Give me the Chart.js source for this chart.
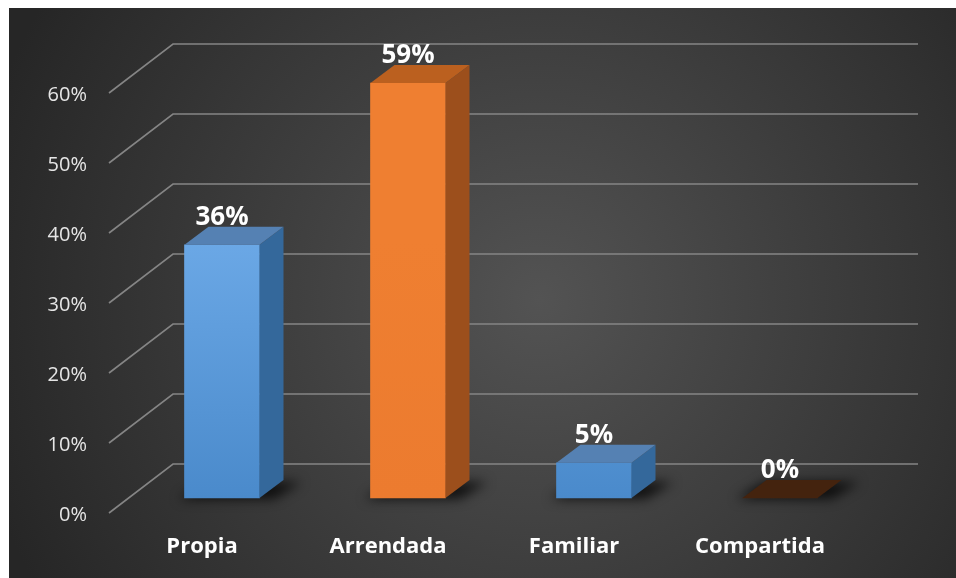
<!DOCTYPE html>
<html>
<head>
<meta charset="utf-8">
<script src="https://cdn.jsdelivr.net/npm/chart.js@4.4.1/dist/chart.umd.min.js"></script>
<style>
  html, body { margin: 0; padding: 0; background: #ffffff; }
  #wrap { position: relative; width: 956px; height: 578px; }
</style>
</head>
<body>
<div id="wrap"><canvas id="chart"></canvas></div>
<script>
// Tenencia de la vivienda (porcentajes)
const categories = ['Propia', 'Arrendada', 'Familiar', 'Compartida'];
const percentages = [36, 59, 5, 0];
const axisTicks = [0, 10, 20, 30, 40, 50, 60];

// Colours for each column: front (top/bottom of gradient), top face, side face
const frontTop = ['#6ba8e6', '#ef7f31', '#6ba8e6', '#4a2610'];
const frontBottom = ['#4a8acb', '#ec7b2f', '#4a8acb', '#4a2610'];
const topFace = ['#5581b3', '#bb601f', '#5581b3', '#44230e'];
const sideFace = ['#34689b', '#9c4f1c', '#34689b', '#3a1d0b'];

const DEPTH_X = 24, DEPTH_Y = -18;

const backdrop = {
  id: 'backdrop',
  beforeDraw(chart) {
    const { ctx, width, height } = chart;
    ctx.save();
    ctx.fillStyle = '#ffffff';
    ctx.fillRect(0, 0, width, height);
    const g = ctx.createRadialGradient(540, 300, 0, 540, 300, 580);
    g.addColorStop(0, '#535353');
    g.addColorStop(1, '#262626');
    ctx.fillStyle = g;
    ctx.fillRect(9, 8, width - 9, height - 8);
    ctx.restore();
  }
};

// Back wall and floor guide lines, drawn from the value axis ticks
const wallGrid = {
  id: 'wallGrid',
  beforeDatasetsDraw(chart) {
    const { ctx, chartArea } = chart;
    const y = chart.scales.y;
    const x0 = chartArea.left - 20, x1 = chartArea.left + 44, x2 = chartArea.right + 45;
    ctx.save();
    ctx.strokeStyle = '#858585';
    ctx.lineWidth = 1.6;
    axisTicks.forEach(v => {
      const p = y.getPixelForValue(v);
      ctx.beginPath();
      ctx.moveTo(x0, p - 2);
      ctx.lineTo(x1, p - 51);
      ctx.lineTo(x2, p - 51);
      ctx.stroke();
    });
    // soft floor shadows under each column
    const meta = chart.getDatasetMeta(0);
    ctx.filter = 'blur(6px)';
    ctx.fillStyle = 'rgba(0,0,0,0.75)';
    meta.data.forEach(bar => {
      const L = bar.x - bar.width / 2, R = bar.x + bar.width / 2, b = bar.base;
      ctx.beginPath();
      ctx.moveTo(L - 6, b + 1);
      ctx.lineTo(R + 14, b + 1);
      ctx.lineTo(R + 42, b - 16);
      ctx.lineTo(L + 22, b - 16);
      ctx.closePath();
      ctx.fill();
    });
    ctx.restore();
  }
};

// Top and side faces of each column plus value labels
const columns3d = {
  id: 'columns3d',
  afterDatasetsDraw(chart) {
    const { ctx } = chart;
    const meta = chart.getDatasetMeta(0);
    ctx.save();
    meta.data.forEach((bar, i) => {
      const L = bar.x - bar.width / 2, R = bar.x + bar.width / 2;
      const t = bar.y, b = bar.base;
      // side
      if (b - t > 0.5) {
        ctx.fillStyle = sideFace[i];
        ctx.beginPath();
        ctx.moveTo(R, t);
        ctx.lineTo(R + DEPTH_X, t + DEPTH_Y);
        ctx.lineTo(R + DEPTH_X, b + DEPTH_Y);
        ctx.lineTo(R, b);
        ctx.closePath();
        ctx.fill();
      }
      // top
      ctx.fillStyle = topFace[i];
      ctx.beginPath();
      ctx.moveTo(L, t);
      ctx.lineTo(R, t);
      ctx.lineTo(R + DEPTH_X, t + DEPTH_Y);
      ctx.lineTo(L + DEPTH_X, t + DEPTH_Y);
      ctx.closePath();
      ctx.fill();
      // value label
      ctx.fillStyle = '#ffffff';
      ctx.font = 'bold 26px "Open Sans"';
      ctx.textAlign = 'center';
      ctx.textBaseline = 'alphabetic';
      ctx.fillText(percentages[i] + '%', bar.x, t + DEPTH_Y - 2);
    });
    ctx.restore();
  }
};

const ctx = document.getElementById('chart');
new Chart(ctx, {
  type: 'bar',
  data: {
    labels: categories,
    datasets: [{
      data: percentages,
      yAxisID: 'yb',
      barThickness: 75,
      borderWidth: 0,
      clip: false,
      backgroundColor: (c) => {
        const chart = c.chart;
        const i = c.dataIndex;
        if (!chart.chartArea || i === undefined) return frontBottom[0];
        const g = chart.ctx.createLinearGradient(0, 240, 0, 498);
        g.addColorStop(0, frontTop[i]);
        g.addColorStop(1, frontBottom[i]);
        return g;
      }
    }]
  },
  options: {
    responsive: true,
    maintainAspectRatio: false,
    animation: false,
    devicePixelRatio: 1,
    layout: { padding: { top: 95, right: 83, bottom: 0, left: 0 } },
    plugins: { legend: { display: false }, tooltip: { enabled: false } },
    scales: {
      x: {
        type: 'category',
        offset: true,
        grid: { display: false, drawTicks: false },
        border: { display: false },
        ticks: {
          color: '#ffffff',
          font: { family: 'Open Sans', size: 22, weight: 'bold' },
          padding: 19,
          labelOffset: -20,
          maxRotation: 0
        },
        afterFit(scale) { scale.height = 63; }
      },
      y: {
        type: 'linear',
        position: 'left',
        min: 0,
        max: 60,
        afterBuildTicks(scale) { scale.ticks = axisTicks.map(v => ({ value: v })); },
        grid: { display: false, drawTicks: false },
        border: { display: false },
        ticks: {
          color: '#e6e6e6',
          font: { family: 'Open Sans', size: 20 },
          padding: 42,
          callback: (v) => v + '%'
        },
        afterFit(scale) { scale.width = 129; }
      },
      yb: {
        type: 'linear',
        display: false,
        min: -2.417,
        max: 57.29
      }
    }
  },
  plugins: [backdrop, wallGrid, columns3d]
});
</script>
</body>
</html>
